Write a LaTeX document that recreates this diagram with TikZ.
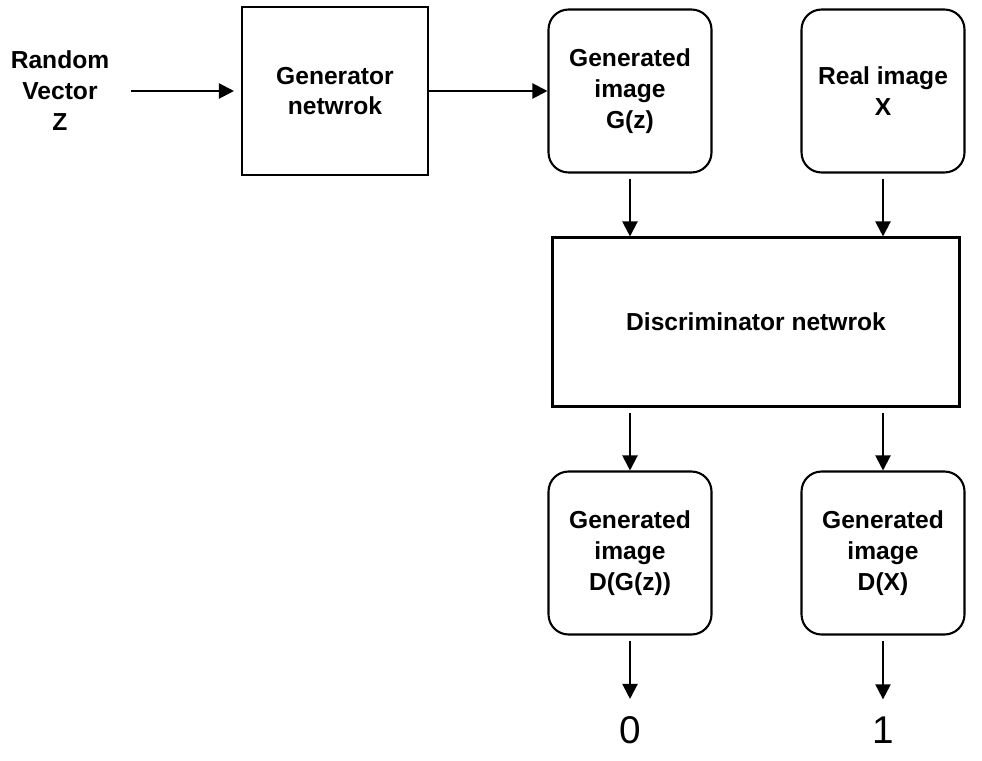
\documentclass[tikz,border=0pt]{standalone}
\usepackage{fontspec}
\setmainfont{Liberation Sans}
\usetikzlibrary{arrows.meta}
\begin{document}
\begin{tikzpicture}[x=0.02cm,y=-0.02cm,line width=1.2pt,
	>={Triangle[length=0.3cm,width=0.3cm]},
	txt/.style={font=\bfseries\fontsize{14pt}{17.6pt}\selectfont,align=center},
	sqbox/.style={draw,txt,minimum width=3.72cm,minimum height=3.36cm},
	rndbox/.style={draw,txt,rounded corners=0.4cm,minimum width=3.26cm,minimum height=3.26cm},
	outnum/.style={font=\fontsize{22pt}{26pt}\selectfont,anchor=base,inner sep=0.32cm},
	link/.style={->,shorten <=0.1cm}]
	\useasboundingbox (0,0) rectangle (982,760);
	\node[txt,minimum width=2.8cm] (rv) at (60,91) {Random\\Vector\\Z};
	\node[sqbox] (gen) at (335,91) {Generator\\netwrok};
	\node[rndbox] (gz) at (630,91) {Generated\\image\\G(z)};
	\node[rndbox] (x) at (883,91) {Real image\\X};
	\node[sqbox,minimum width=8.14cm,minimum height=3.38cm] (disc) at (756,322) {Discriminator netwrok};
	\node[rndbox] (dgz) at (630,553) {Generated\\image\\D(G(z))};
	\node[rndbox] (dx) at (883,553) {Generated\\image\\D(X)};
	\node[outnum] (zero) at (630,743) {0};
	\node[outnum] (one) at (883,743) {1};
	\draw[->,shorten >=0.14cm] (rv.east)--(gen.west);
	\draw[->] (gen.east)--(gz.west);
	\draw[link] (gz.south)--(gz.south|-disc.north);
	\draw[link] (x.south)--(x.south|-disc.north);
	\draw[link] (dgz.north|-disc.south)--(dgz.north);
	\draw[link] (dx.north|-disc.south)--(dx.north);
	\draw[link] (dgz.south)--(zero.north);
	\draw[link] (dx.south)--(one.north);
\end{tikzpicture}
\end{document}
